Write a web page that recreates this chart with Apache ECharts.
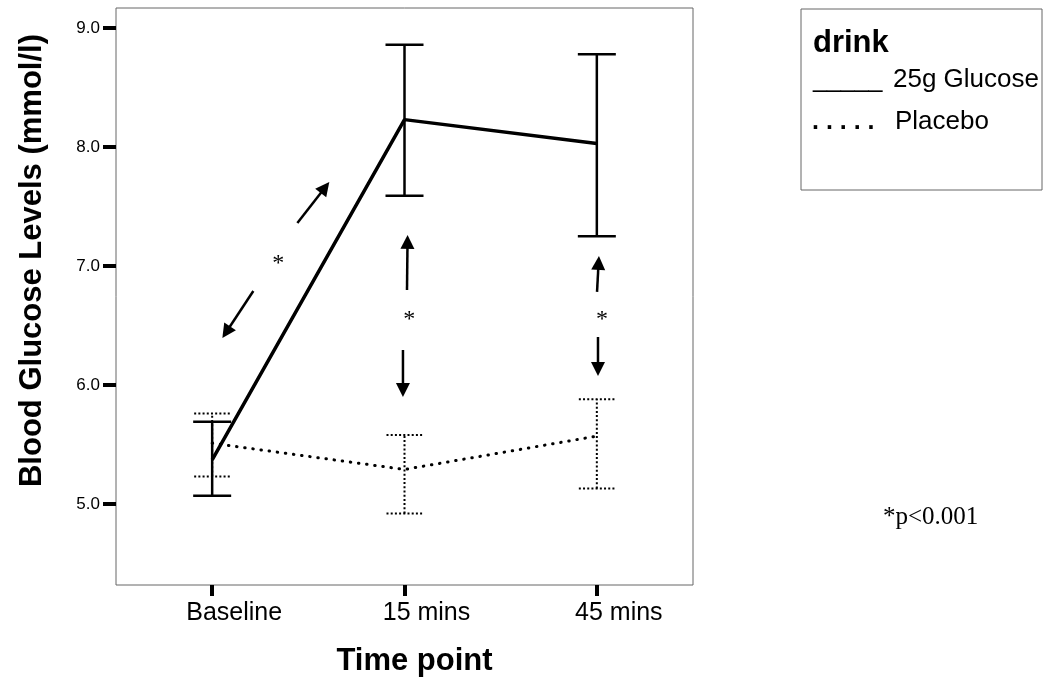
<!DOCTYPE html>
<html><head><meta charset="utf-8">
<script src="https://cdn.jsdelivr.net/npm/echarts@6/dist/echarts.min.js"></script>
<style>html,body{margin:0;padding:0;background:#fff}#c{width:1046px;height:685px}</style>
</head><body><div id="c"></div>
<script>
const categories = ['Baseline', '15 mins', '45 mins'];
const yTicks = [5.0, 6.0, 7.0, 8.0, 9.0];
const glucoseMean = [5.37, 8.23, 8.03];
const glucoseLow = [5.07, 7.59, 7.25];
const glucoseHigh = [5.69, 8.86, 8.78];
const placeboMean = [5.51, 5.29, 5.57];
const placeboLow = [5.23, 4.92, 5.13];
const placeboHigh = [5.76, 5.58, 5.88];
// annotation arrows, in (time-point position, mmol/l)
const arrowStart = [[0.443, 7.361], [0.214, 6.790], [1.013, 6.798], [0.992, 6.294], [2.001, 6.782], [2.006, 6.403]];
const arrowTip = [[0.609, 7.706], [0.053, 6.395], [1.016, 7.261], [0.992, 5.899], [2.011, 7.084], [2.006, 6.076]];
const starPos = [[0.344, 7.059], [1.025, 6.588], [2.027, 6.588]];
const legendTitle = 'drink';
const seriesNames = ['25g Glucose', 'Placebo'];
const noteText = '*p<0.001';

const SANS = '"Liberation Sans", Arial, sans-serif';
const SERIF = '"Liberation Serif", "Times New Roman", serif';

const glucoseBars = categories.map((c, i) => [i, glucoseLow[i], glucoseHigh[i]]);
const placeboBars = categories.map((c, i) => [i, placeboLow[i], placeboHigh[i]]);
const arrows = arrowStart.map((s, i) => [s[0], s[1], arrowTip[i][0], arrowTip[i][1]]);

function errorBarRenderer(dash, width, capHalf) {
  return function (params, api) {
    const x = api.value(0);
    const lo = api.coord([x, api.value(1)]);
    const hi = api.coord([x, api.value(2)]);
    const st = { stroke: '#000', lineWidth: width, lineDash: dash };
    return {
      type: 'group',
      children: [
        { type: 'line', shape: { x1: lo[0], y1: lo[1], x2: hi[0], y2: hi[1] }, style: st },
        { type: 'line', shape: { x1: lo[0] - capHalf, y1: lo[1], x2: lo[0] + capHalf, y2: lo[1] }, style: st },
        { type: 'line', shape: { x1: hi[0] - capHalf, y1: hi[1], x2: hi[0] + capHalf, y2: hi[1] }, style: st }
      ]
    };
  };
}

const chart = echarts.init(document.getElementById('c'));
chart.setOption({
  animation: false,
  backgroundColor: '#fff',
  grid: { left: 116, top: 8, width: 577, height: 577, show: true, borderColor: '#666', borderWidth: 1, backgroundColor: 'transparent' },
  xAxis: [
    {
      type: 'category', data: categories, boundaryGap: true,
      axisLine: { show: false, onZero: false },
      axisTick: { show: true, alignWithLabel: true, inside: false, length: 11, lineStyle: { color: '#000', width: 4 } },
      axisLabel: { color: '#000', fontFamily: SANS, fontSize: 25, margin: 16, padding: [0, 0, 0, 44] },
      splitLine: { show: false },
      name: 'Time point', nameLocation: 'middle', nameGap: 61,
      nameTextStyle: { color: '#000', fontFamily: SANS, fontSize: 31, fontWeight: 'bold', padding: [0, 0, 0, 20] }
    },
    { type: 'value', min: -0.5, max: 2.5, show: false, axisLine: { onZero: false } }
  ],
  yAxis: {
    type: 'value', min: 4.319, max: 9.168,
    axisLine: { show: false, onZero: false },
    axisTick: { show: true, inside: false, length: 13, customValues: yTicks, lineStyle: { color: '#000', width: 4 } },
    axisLabel: { color: '#000', fontFamily: SANS, fontSize: 17, margin: 16, customValues: yTicks, formatter: v => v.toFixed(1) },
    splitLine: { show: false },
    name: 'Blood Glucose Levels (mmol/l)', nameLocation: 'middle', nameGap: 68, nameRotate: 90,
    nameTextStyle: { color: '#000', fontFamily: SANS, fontSize: 31, fontWeight: 'bold', padding: [0, 0, 0, 72] }
  },
  series: [
    {
      name: seriesNames[0], type: 'line', data: glucoseMean, symbol: 'none', z: 3,
      lineStyle: { color: '#000', width: 3.5 }
    },
    {
      name: seriesNames[1], type: 'line', data: placeboMean, symbol: 'none', z: 3,
      lineStyle: { color: '#000', width: 3, type: [0.5, 7.7], cap: 'round' }
    },
    {
      type: 'custom', data: glucoseBars, renderItem: errorBarRenderer(null, 2.5, 19),
      encode: { x: 0, y: [1, 2] }, z: 2
    },
    {
      type: 'custom', data: placeboBars, renderItem: errorBarRenderer([2, 2.2], 2, 18),
      encode: { x: 0, y: [1, 2] }, z: 2
    },
    {
      type: 'custom', xAxisIndex: 1, data: arrows, encode: { x: [0, 2], y: [1, 3] }, z: 4,
      renderItem: function (params, api) {
        const p0 = api.coord([api.value(0), api.value(1)]);
        const p1 = api.coord([api.value(2), api.value(3)]);
        const dx = p1[0] - p0[0], dy = p1[1] - p0[1];
        const L = Math.hypot(dx, dy), ux = dx / L, uy = dy / L;
        const hl = 14, hw = 7;
        const bx = p1[0] - ux * hl, by = p1[1] - uy * hl;
        return {
          type: 'group',
          children: [
            { type: 'line', shape: { x1: p0[0], y1: p0[1], x2: bx + ux * 2, y2: by + uy * 2 }, style: { stroke: '#000', lineWidth: 2.5 } },
            { type: 'polygon', shape: { points: [[p1[0], p1[1]], [bx - uy * hw, by + ux * hw], [bx + uy * hw, by - ux * hw]] }, style: { fill: '#000' } }
          ]
        };
      }
    },
    {
      type: 'custom', xAxisIndex: 1, data: starPos, encode: { x: 0, y: 1 }, z: 4,
      renderItem: function (params, api) {
        const p = api.coord([api.value(0), api.value(1)]);
        return {
          type: 'text', x: p[0], y: p[1] + 5,
          style: { text: '*', fill: '#000', font: '24px ' + SERIF, align: 'center', verticalAlign: 'middle' }
        };
      }
    }
  ],
  graphic: [
    { type: 'rect', shape: { x: 801, y: 9, width: 241, height: 181 }, style: { fill: '#fff', stroke: '#666', lineWidth: 1 } },
    { type: 'text', x: 813, y: 43, style: { text: legendTitle, fill: '#000', font: 'bold 31px ' + SANS, verticalAlign: 'middle' } },
    { type: 'text', x: 813, y: 80, style: { text: '_____', fill: '#000', font: '25px ' + SANS, verticalAlign: 'middle' } },
    { type: 'text', x: 893, y: 80, style: { text: seriesNames[0], fill: '#000', font: '26px ' + SANS, verticalAlign: 'middle' } },
    { type: 'text', x: 812, y: 122, style: { text: '. . . . .', fill: '#000', font: 'bold 25px ' + SANS, verticalAlign: 'middle' } },
    { type: 'text', x: 895, y: 122, style: { text: seriesNames[1], fill: '#000', font: '26px ' + SANS, verticalAlign: 'middle' } },
    { type: 'text', x: 883, y: 517, style: { text: noteText, fill: '#000', font: '25px ' + SERIF, verticalAlign: 'middle' } }
  ]
});
</script>
</body></html>
